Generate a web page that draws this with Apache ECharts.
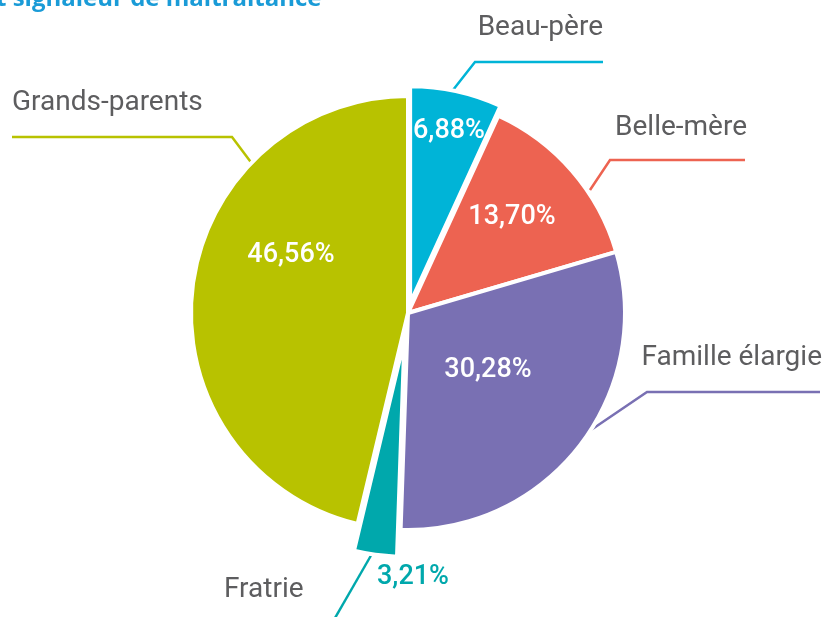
<!DOCTYPE html>
<html>
<head>
<meta charset="utf-8">
<script src="https://cdn.jsdelivr.net/npm/echarts@6/dist/echarts.min.js"></script>
<style>
  html, body { margin: 0; padding: 0; background: #fff; }
  #chart { width: 824px; height: 617px; }
</style>
</head>
<body>
<div id="chart"></div>
<script>
// data
const categories = ['Beau-père', 'Belle-mère', 'Famille élargie', 'Fratrie', 'Grands-parents'];
const shares = [6.88, 13.70, 30.28, 3.21, 46.56];
const colors = ['#00b4d7', '#ed6351', '#7970b3', '#00a8ac', '#b8c200'];

// how far each slice is pulled out of the pie (px)
const pullOut = [10, 0, 0, 27, 0];

// layout of the name labels and their leader lines
const namePos = [
    {x: 603, y: 28, align: 'right'},
    {x: 747, y: 128, align: 'right'},
    {x: 822, y: 358, align: 'right'},
    {x: 224, y: 590, align: 'left'},
    {x: 12, y: 103, align: 'left'}
];
const nameLines = [
    [[453, 90], [475, 62], [603, 62]],
    [[590, 190], [610, 160], [745, 160]],
    [[588, 432], [647, 392], [820, 392]],
    [[373, 552], [354, 585], [335, 618]],
    [[253, 165], [232, 137], [12, 137]]
];
// centres of the percentage labels
const pctPos = [[449, 131], [512, 217], [488, 370], [413, 577], [291, 255]];

const CENTER = [408, 313];
const RADIUS = 217;
const FONT = 'Roboto';

const pct = v => v.toFixed(2).replace('.', ',') + '%';

const myChart = echarts.init(document.getElementById('chart'));

const total = shares.reduce((a, b) => a + b, 0);

// one series per slice so that each one can have its own pull-out
const sliceSeries = categories.map((name, k) => {
    const before = shares.slice(0, k).reduce((a, b) => a + b, 0);
    const mid = (before + shares[k] / 2) / total * 2 * Math.PI;
    const center = [
        CENTER[0] + pullOut[k] * Math.sin(mid),
        CENTER[1] - pullOut[k] * Math.cos(mid)
    ];
    return {
        type: 'pie',
        center: center,
        radius: RADIUS,
        startAngle: 90,
        avoidLabelOverlap: false,
        itemStyle: {borderColor: '#ffffff', borderWidth: 4},
        label: {
            show: true,
            position: 'outside',
            formatter: '{b}',
            color: '#5d5d5f',
            fontFamily: FONT,
            fontSize: 28
        },
        labelLine: {show: true, lineStyle: {width: 2.5}},
        labelLayout: params => ({
            x: namePos[params.dataIndex].x,
            y: namePos[params.dataIndex].y,
            align: namePos[params.dataIndex].align,
            verticalAlign: 'middle',
            labelLinePoints: nameLines[params.dataIndex]
        }),
        data: categories.map((n, i) => i === k
            ? {name: n, value: shares[i], itemStyle: {color: colors[i]}}
            : {name: n, value: shares[i], itemStyle: {color: 'transparent', borderWidth: 0},
               label: {show: false}, labelLine: {show: false}})
    };
});

// transparent overlay carrying the percentages
const pctSeries = {
    type: 'pie',
    center: CENTER,
    radius: RADIUS,
    startAngle: 90,
    silent: true,
    avoidLabelOverlap: false,
    itemStyle: {color: 'transparent', borderWidth: 0},
    label: {
        show: true,
        position: 'outside',
        formatter: p => pct(p.value),
        fontFamily: FONT,
        fontSize: 27,
        fontWeight: 500
    },
    labelLine: {show: false},
    labelLayout: params => ({
        x: pctPos[params.dataIndex][0],
        y: pctPos[params.dataIndex][1],
        align: 'center',
        verticalAlign: 'middle'
    }),
    data: categories.map((name, i) => ({
        name: name,
        value: shares[i],
        label: {color: i === 3 ? colors[3] : '#ffffff'}
    }))
};

const option = {
    animation: false,
    graphic: [{
        type: 'text',
        left: -4,
        top: -13,
        style: {
            text: 't signaleur de maltraitance',
            fill: '#1a9bd7',
            font: 'bold 24px "Open Sans"'
        }
    }],
    series: sliceSeries.concat([pctSeries])
};

myChart.setOption(option);
</script>
</body>
</html>
